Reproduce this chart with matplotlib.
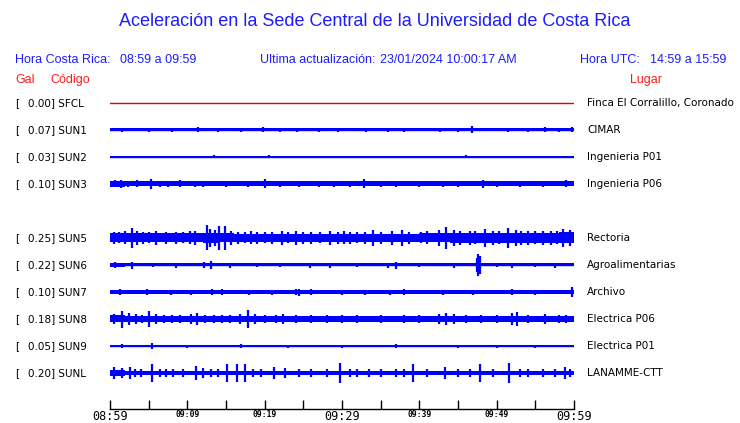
import matplotlib.pyplot as plt
import matplotlib.transforms as mtransforms

plt.rcParams['figure.dpi'] = 100

# stations (slot 4 is empty in the display)
codes = ['SFCL', 'SUN1', 'SUN2', 'SUN3', 'SUN5', 'SUN6', 'SUN7', 'SUN8', 'SUN9', 'SUNL']
slots = [0, 1, 2, 3, 5, 6, 7, 8, 9, 10]
peaks = [0.00, 0.07, 0.03, 0.10, 0.25, 0.22, 0.10, 0.18, 0.05, 0.20]
places = ['Finca El Corralillo, Coronado', 'CIMAR', 'Ingenieria P01', 'Ingenieria P06',
          'Rectoria', 'Agroalimentarias', 'Archivo', 'Electrica P06', 'Electrica P01',
          'LANAMME-CTT']
colors = ['#e00000'] + ['#0000ff'] * 9

# envelope half-amplitude (Gal) in 2 minute bins, 08:59 -> 09:59
env_minutes = [0, 2, 4, 6, 8, 10, 12, 14, 16, 18, 20, 22, 24, 26, 28, 30,
               32, 34, 36, 38, 40, 42, 44, 46, 48, 50, 52, 54, 56, 58, 60]
sfcl_env = [0.0, 0.0, 0.0, 0.0, 0.0, 0.0, 0.0, 0.0, 0.0, 0.0, 0.0, 0.0, 0.0, 0.0, 0.0,
            0.0, 0.0, 0.0, 0.0, 0.0, 0.0, 0.0, 0.0, 0.0, 0.0, 0.0, 0.0, 0.0, 0.0, 0.0]
sun1_env = [0.03, 0.03, 0.03, 0.03, 0.03, 0.03, 0.03, 0.03, 0.03, 0.03, 0.03, 0.03, 0.03, 0.03, 0.03,
            0.03, 0.03, 0.03, 0.03, 0.03, 0.03, 0.03, 0.03, 0.03, 0.03, 0.03, 0.03, 0.03, 0.03, 0.03]
sun2_env = [0.015, 0.012, 0.01, 0.015, 0.01, 0.015, 0.01, 0.012, 0.01, 0.015, 0.01, 0.012, 0.015, 0.01, 0.012,
            0.01, 0.01, 0.015, 0.012, 0.01, 0.015, 0.01, 0.012, 0.01, 0.015, 0.01, 0.012, 0.015, 0.01, 0.012]
sun3_env = [0.055, 0.05, 0.05, 0.05, 0.05, 0.05, 0.05, 0.05, 0.05, 0.05, 0.05, 0.05, 0.05, 0.05, 0.05,
            0.05, 0.05, 0.05, 0.05, 0.05, 0.05, 0.05, 0.05, 0.05, 0.05, 0.05, 0.05, 0.05, 0.05, 0.05]
sun5_env = [0.09, 0.09, 0.09, 0.09, 0.09, 0.09, 0.095, 0.09, 0.085, 0.085, 0.085, 0.085, 0.085, 0.085, 0.085,
            0.085, 0.085, 0.085, 0.085, 0.085, 0.09, 0.09, 0.095, 0.095, 0.10, 0.10, 0.10, 0.10, 0.105, 0.11]
sun6_env = [0.035, 0.03, 0.03, 0.03, 0.03, 0.03, 0.03, 0.03, 0.03, 0.03, 0.03, 0.03, 0.03, 0.03, 0.03,
            0.03, 0.03, 0.03, 0.03, 0.03, 0.03, 0.03, 0.03, 0.03, 0.03, 0.03, 0.03, 0.03, 0.03, 0.03]
sun7_env = [0.04, 0.04, 0.04, 0.04, 0.04, 0.04, 0.04, 0.04, 0.04, 0.04, 0.04, 0.04, 0.04, 0.04, 0.04,
            0.04, 0.04, 0.04, 0.04, 0.04, 0.04, 0.04, 0.04, 0.04, 0.04, 0.04, 0.04, 0.04, 0.04, 0.04]
sun8_env = [0.07, 0.065, 0.06, 0.06, 0.06, 0.06, 0.06, 0.06, 0.06, 0.06, 0.06, 0.06, 0.06, 0.06, 0.06,
            0.06, 0.06, 0.06, 0.06, 0.06, 0.06, 0.06, 0.06, 0.06, 0.06, 0.06, 0.06, 0.06, 0.06, 0.06]
sun9_env = [0.025, 0.025, 0.025, 0.025, 0.025, 0.025, 0.025, 0.025, 0.025, 0.025, 0.025, 0.025, 0.025, 0.025, 0.025,
            0.025, 0.025, 0.025, 0.025, 0.025, 0.025, 0.025, 0.025, 0.025, 0.025, 0.025, 0.025, 0.025, 0.025, 0.025]
sunl_env = [0.05, 0.045, 0.045, 0.045, 0.045, 0.045, 0.045, 0.045, 0.045, 0.045, 0.045, 0.045, 0.045, 0.045, 0.045,
            0.045, 0.045, 0.045, 0.045, 0.045, 0.045, 0.045, 0.045, 0.045, 0.045, 0.045, 0.045, 0.045, 0.045, 0.045]

# larger individual excursions: (minute, Gal)
sfcl_spk = []
sun1_spk = [(1.5, 0.04), (5.0, 0.04), (8.0, 0.035), (11.4, 0.05), (14.0, 0.04), (17.0, 0.04), (19.8, 0.05),
            (22.0, 0.035), (24.2, 0.04), (27.0, 0.035), (29.5, 0.04), (33.1, 0.045), (36.0, 0.035),
            (38.0, 0.04), (42.7, 0.04), (45.0, 0.04), (46.8, 0.07), (51.5, 0.04), (54.0, 0.04),
            (56.3, 0.05), (58.0, 0.045), (59.8, 0.05)]
sun2_spk = [(1.0, 0.02), (3.0, 0.025), (6.5, 0.02), (9.0, 0.02), (13.5, 0.03), (16.0, 0.02), (20.6, 0.03),
            (23.0, 0.02), (26.0, 0.025), (29.0, 0.02), (33.0, 0.025), (36.0, 0.02), (40.5, 0.025),
            (43.0, 0.02), (46.0, 0.03), (49.0, 0.02), (52.0, 0.025), (55.0, 0.02), (57.5, 0.025)]
sun3_spk = [(0.6, 0.07), (1.4, 0.08), (2.3, 0.065), (3.5, 0.07), (5.3, 0.10), (6.5, 0.065), (7.5, 0.06),
            (9.0, 0.07), (11.0, 0.065), (12.0, 0.06), (15.0, 0.065), (17.8, 0.06), (20.0, 0.09),
            (22.0, 0.065), (24.5, 0.06), (27.0, 0.065), (29.0, 0.06), (31.0, 0.065), (32.8, 0.09),
            (35.0, 0.065), (37.0, 0.06), (40.0, 0.065), (43.0, 0.06), (45.0, 0.065), (48.2, 0.08),
            (50.0, 0.065), (53.0, 0.06), (56.0, 0.065), (59.0, 0.07)]
sun5_spk = [(0.5, 0.12), (1.2, 0.11), (2.0, 0.13), (2.8, 0.20), (3.5, 0.14), (4.3, 0.12), (5.0, 0.11),
            (6.0, 0.14), (7.2, 0.12), (8.5, 0.12), (9.5, 0.11), (10.3, 0.13), (11.0, 0.14), (12.5, 0.25),
            (12.9, 0.18), (13.6, 0.16), (14.1, 0.24), (14.9, 0.24), (15.6, 0.14), (16.5, 0.12),
            (17.5, 0.11), (18.2, 0.13), (19.0, 0.12), (20.0, 0.11), (21.0, 0.12), (22.2, 0.14),
            (23.0, 0.11), (24.0, 0.14), (25.0, 0.12), (26.0, 0.12), (27.2, 0.11), (28.5, 0.14),
            (29.5, 0.12), (30.3, 0.13), (31.0, 0.12), (32.0, 0.11), (33.0, 0.12), (34.0, 0.16),
            (35.0, 0.12), (36.5, 0.14), (37.8, 0.16), (38.7, 0.12), (40.2, 0.11), (41.0, 0.13),
            (42.5, 0.16), (43.5, 0.22), (44.5, 0.16), (45.3, 0.14), (46.5, 0.14), (47.2, 0.13),
            (48.5, 0.18), (49.5, 0.14), (50.3, 0.13), (51.5, 0.20), (52.5, 0.16), (53.2, 0.14),
            (54.0, 0.14), (55.0, 0.13), (56.0, 0.14), (57.0, 0.14), (57.8, 0.13), (58.6, 0.18),
            (59.5, 0.16)]
sun6_spk = [(0.7, 0.06), (2.9, 0.07), (5.5, 0.04), (8.5, 0.05), (12.2, 0.06), (13.0, 0.08), (15.5, 0.05),
            (19.0, 0.04), (22.0, 0.04), (25.9, 0.05), (28.5, 0.05), (32.0, 0.04), (36.0, 0.05),
            (37.0, 0.07), (40.0, 0.04), (44.5, 0.05), (47.5, 0.14), (47.6, 0.22), (47.8, 0.18),
            (50.0, 0.04), (52.0, 0.05), (55.0, 0.04), (57.5, 0.05)]
sun7_spk = [(1.3, 0.06), (4.8, 0.06), (7.9, 0.05), (10.5, 0.05), (13.2, 0.06), (14.5, 0.06), (18.0, 0.05),
            (21.0, 0.05), (24.0, 0.06), (24.5, 0.07), (26.0, 0.06), (30.0, 0.05), (33.0, 0.05),
            (36.2, 0.05), (38.0, 0.06), (43.0, 0.05), (47.0, 0.05), (52.0, 0.06), (55.0, 0.05),
            (59.8, 0.10)]
sun8_spk = [(0.5, 0.10), (1.6, 0.17), (2.4, 0.12), (3.3, 0.10), (4.2, 0.09), (5.1, 0.16), (6.0, 0.10),
            (7.0, 0.08), (8.0, 0.08), (9.0, 0.08), (10.5, 0.10), (11.2, 0.12), (12.3, 0.09),
            (13.5, 0.08), (14.5, 0.08), (15.5, 0.09), (16.8, 0.10), (17.9, 0.18), (18.7, 0.10),
            (20.0, 0.08), (21.5, 0.09), (22.4, 0.10), (24.0, 0.08), (26.0, 0.08), (28.0, 0.08),
            (30.0, 0.08), (32.0, 0.08), (35.0, 0.08), (38.0, 0.08), (40.0, 0.08), (42.5, 0.10),
            (43.5, 0.12), (44.5, 0.10), (46.0, 0.08), (48.0, 0.08), (50.0, 0.08), (52.0, 0.12),
            (52.6, 0.14), (54.0, 0.08), (56.3, 0.10), (58.0, 0.08), (59.0, 0.08)]
sun9_spk = [(1.6, 0.04), (5.4, 0.05), (10.0, 0.03), (17.0, 0.04), (23.0, 0.03), (30.0, 0.03),
            (37.0, 0.035), (45.0, 0.03), (50.0, 0.03), (55.0, 0.03)]
sunl_spk = [(0.5, 0.12), (1.5, 0.10), (2.6, 0.12), (3.2, 0.08), (4.0, 0.08), (5.4, 0.19), (6.5, 0.09),
            (7.3, 0.08), (8.2, 0.08), (9.5, 0.08), (11.1, 0.14), (12.0, 0.10), (13.0, 0.09),
            (14.0, 0.08), (15.1, 0.18), (16.4, 0.19), (17.5, 0.19), (18.5, 0.09), (19.5, 0.08),
            (21.2, 0.12), (22.6, 0.10), (24.5, 0.08), (26.0, 0.08), (28.0, 0.08), (29.8, 0.20),
            (31.0, 0.09), (32.0, 0.08), (33.5, 0.08), (35.0, 0.08), (37.0, 0.09), (38.0, 0.08),
            (39.2, 0.18), (41.0, 0.08), (43.3, 0.12), (45.0, 0.09), (46.5, 0.08), (47.9, 0.18),
            (49.5, 0.08), (51.6, 0.20), (53.0, 0.09), (54.0, 0.08), (56.0, 0.08), (57.5, 0.09),
            (58.9, 0.12), (59.5, 0.09)]

envs = [sfcl_env, sun1_env, sun2_env, sun3_env, sun5_env, sun6_env, sun7_env, sun8_env, sun9_env, sunl_env]
spikes = [sfcl_spk, sun1_spk, sun2_spk, sun3_spk, sun5_spk, sun6_spk, sun7_spk, sun8_spk, sun9_spk, sunl_spk]

tick_minutes = [0, 5, 10, 15, 20, 25, 30, 35, 40, 45, 50, 55, 60]
tick_labels = ['08:59', '', '09:09', '', '09:19', '', '09:29', '', '09:39', '', '09:49', '', '09:59']
big_labels = ['08:59', '09:29', '09:59']

W, H = 740, 423
gain = 50 / 27.0  # trace slots per Gal

fig = plt.figure(figsize=(W / 100, H / 100), dpi=100)
ax = fig.add_axes([110 / W, 1 - 409 / H, 464 / W, (409 - 88) / H])
ax.set_xlim(0, 60)
ax.set_ylim((409 - 103) / 27, (88 - 103) / 27)

for slot, env, spk, col in zip(slots, envs, spikes, colors):
    amp = [a * gain for a in env] + [env[-1] * gain]
    ax.plot([0, 60], [slot, slot], color=col, lw=1.0)
    ax.fill_between(env_minutes, [slot - a for a in amp], [slot + a for a in amp],
                    step='post', color=col, lw=0)
    if spk:
        ax.vlines([s[0] for s in spk], [slot - s[1] * gain for s in spk],
                  [slot + s[1] * gain for s in spk], color=col, lw=1.6)

for side in ['top', 'left', 'right']:
    ax.spines[side].set_visible(False)
ax.spines['bottom'].set_linewidth(1.0)
ax.set_yticks([])
ax.set_xticks(tick_minutes, tick_labels)
ax.tick_params(axis='x', direction='in', length=6.3, width=1.0, pad=0.5)
for lab in ax.get_xticklabels():
    lab.set_fontfamily('DejaVu Sans Mono')
    if lab.get_text() in big_labels:
        lab.set_fontsize(8.5)
    else:
        lab.set_fontsize(5.8)
        lab.set_fontweight('bold')

# header texts
blue = '#1c1cff'
red = '#ff1c1c'
hf = 'Liberation Sans'
fig.text(375 / W, 1 - 22 / H, 'Aceleración en la Sede Central de la Universidad de Costa Rica',
         ha='center', va='center', color=blue, fontsize=13, family=hf)
fig.text(15 / W, 1 - 60 / H, 'Hora Costa Rica:', ha='left', va='center', color=blue, fontsize=9, family=hf)
fig.text(120 / W, 1 - 60 / H, '08:59 a 09:59', ha='left', va='center', color=blue, fontsize=9, family=hf)
fig.text(260 / W, 1 - 60 / H, 'Ultima actualización:', ha='left', va='center', color=blue, fontsize=9, family=hf)
fig.text(380 / W, 1 - 60 / H, '23/01/2024 10:00:17 AM', ha='left', va='center', color=blue, fontsize=9, family=hf)
fig.text(580 / W, 1 - 60 / H, 'Hora UTC:', ha='left', va='center', color=blue, fontsize=9, family=hf)
fig.text(650 / W, 1 - 60 / H, '14:59 a 15:59', ha='left', va='center', color=blue, fontsize=9, family=hf)
fig.text(15 / W, 1 - 80 / H, 'Gal', ha='left', va='center', color=red, fontsize=9, family=hf)
fig.text(50 / W, 1 - 80 / H, 'Código', ha='left', va='center', color=red, fontsize=9, family=hf)
fig.text(630 / W, 1 - 80 / H, 'Lugar', ha='left', va='center', color=red, fontsize=9, family=hf)

# station labels
trans = mtransforms.blended_transform_factory(fig.transFigure, ax.transData)
for slot, code, pk, place in zip(slots, codes, peaks, places):
    ax.text(15 / W, slot, '[', transform=trans, ha='left', va='center', fontsize=7.5, clip_on=False)
    ax.text(28 / W, slot, '{:.2f}] {}'.format(pk, code), transform=trans, ha='left', va='center',
            fontsize=7.5, clip_on=False)
    ax.text(587 / W, slot, place, transform=trans, ha='left', va='center', fontsize=7.5, clip_on=False)

fig.savefig('out.png', dpi=100)
